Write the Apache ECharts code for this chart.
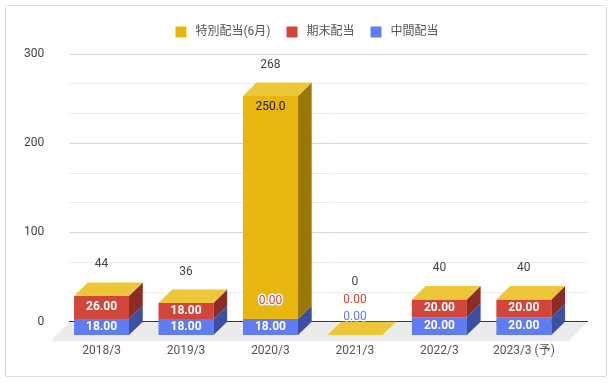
<!DOCTYPE html>
<html>
<head>
<meta charset="utf-8">
<script src="https://cdn.jsdelivr.net/npm/echarts@6/dist/echarts.min.js"></script>
<style>html,body{margin:0;padding:0;background:#fff}#c{width:614px;height:383px}</style>
</head>
<body>
<div id="c"></div>
<script>
var categories = ['2018/3', '2019/3', '2020/3', '2021/3', '2022/3', '2023/3 (予)'];
var interim = [18, 18, 18, 0, 20, 20];      // 中間配当
var yearEnd = [26, 18, 0, 0, 20, 20];       // 期末配当
var special = [null, null, 250, null, null, null]; // 特別配当(6月)
var yTicks = [0, 100, 200, 300];

var FONT = 'Roboto, "Noto Sans CJK JP", sans-serif';
var DX = 13.7, DY = 13.4, FLOOR = 19;
var stacks = [interim, yearEnd, special];
var colors = [
  {front: '#5f7cf0', side: '#3c4fa1'},
  {front: '#d1453b', side: '#8b2c27'},
  {front: '#e8b70f', side: '#9a7808'}
];
var capColor = '#edc63a';

function baseOf(s, i) {
  var b = 0;
  for (var k = 0; k < s; k++) b += (stacks[k][i] || 0);
  return b;
}
function totalOf(i) { return baseOf(3, i); }
function fmt(v) { return v === 0 ? '0.00' : v.toPrecision(4); }

function segRender(s) {
  return function (params, api) {
    var i = params.dataIndex;
    var v = api.value(1);
    var base = baseOf(s, i);
    var W = api.size([1, 0])[0] * 0.651;
    var children = [];
    var p0 = api.coord([i, base]);
    var p1 = api.coord([i, base + v]);
    var cx = p0[0], fb = p0[1] + DY, ft = p1[1] + DY;
    var l = cx - W / 2, r = cx + W / 2;
    if (v > 0) {
      children.push({type: 'rect', shape: {x: l, y: ft, width: W, height: fb - ft}, style: {fill: colors[s].front}});
      children.push({type: 'polygon', shape: {points: [[r, ft], [r + DX, ft - DY], [r + DX, fb - DY], [r, fb]]}, style: {fill: colors[s].side}});
    }
    if (s === 2) {
      var pt = api.coord([i, totalOf(i)]);
      var t = pt[1] + DY;
      children.push({type: 'polygon', shape: {points: [[l, t], [l + DX, t - DY], [r + DX, t - DY], [r, t]]}, style: {fill: capColor}});
    }
    return {type: 'group', children: children};
  };
}

function labelRender(params, api) {
  var i = params.dataIndex;
  var children = [];
  var cursor = Infinity;
  for (var s = 0; s < 3; s++) {
    var v = stacks[s][i];
    if (v == null) continue;
    var base = baseOf(s, i);
    var p0 = api.coord([i, base]);
    var p1 = api.coord([i, base + v]);
    var cx = p0[0], fb = p0[1] + DY, ft = p1[1] + DY;
    if (v === 0) {
      var y = Math.min(ft - 18, cursor - 17.5);
      cursor = y;
      children.push({type: 'text', z2: 10, style: {text: fmt(v), x: cx, y: y, align: 'center', verticalAlign: 'middle',
        fill: colors[s].front, stroke: '#fff', lineWidth: 3, fontSize: 12, fontFamily: FONT}});
    } else {
      var yy = Math.min((ft + fb) / 2, ft + 11.3);
      var isY = s === 2;
      children.push({type: 'text', z2: 10, style: {text: fmt(v), x: cx, y: yy, align: 'center', verticalAlign: 'middle',
        fill: isY ? '#1a1a1a' : '#fff', fontSize: 12, fontWeight: isY ? 'normal' : 'bold', fontFamily: FONT}});
    }
  }
  var tot = totalOf(i);
  var pt = api.coord([i, tot]);
  var ty = Math.min(pt[1] - 18, cursor - 17.5);
  children.push({type: 'text', z2: 10, style: {text: String(tot), x: pt[0], y: ty, align: 'center', verticalAlign: 'middle',
    fill: '#444', fontSize: 12, fontFamily: FONT}});
  return {type: 'group', children: children};
}

var chart = echarts.init(document.getElementById('c'), null, {renderer: 'canvas'});
var names = ['中間配当', '期末配当', '特別配当(6月)'];
var series = [
  {
    type: 'custom', name: 'floor', xAxisIndex: 0, yAxisIndex: 0, z: 1, silent: true,
    data: [[0, 0]],
    renderItem: function (params, api) {
      var cs = params.coordSys;
      var b = cs.y + cs.height + 0.5;
      return {type: 'polygon', shape: {points: [[cs.x, b], [cs.x + cs.width, b], [cs.x + cs.width - FLOOR, b + FLOOR], [cs.x - FLOOR, b + FLOOR]]},
        style: {fill: '#ebebeb'}};
    }
  }
];
for (var s = 0; s < 3; s++) {
  series.push({
    type: 'custom', name: names[s], xAxisIndex: 1, yAxisIndex: 1, z: 3,
    itemStyle: {color: colors[s].front},
    data: categories.map((function (ss) { return function (c, i) { return [i, stacks[ss][i] || 0]; }; })(s)),
    renderItem: segRender(s)
  });
}
series.push({
  type: 'custom', name: 'labels', xAxisIndex: 1, yAxisIndex: 1, z: 5, silent: true,
  data: categories.map(function (c, i) { return [i, totalOf(i)]; }),
  renderItem: labelRender
});

chart.setOption({
  animation: false,
  textStyle: {fontFamily: FONT},
  graphic: [{type: 'rect', shape: {x: 5.5, y: 5.5, width: 601, height: 371, r: 2}, style: {fill: 'none', stroke: '#d9d9d9', lineWidth: 1}, z: -10}],
  legend: {
    top: 21, left: 'center', itemWidth: 11, itemHeight: 11, itemGap: 16, icon: 'rect',
    data: ['特別配当(6月)', '期末配当', '中間配当'],
    textStyle: {color: '#555', fontSize: 12, fontFamily: FONT, padding: [0, 0, 0, 4]}
  },
  grid: [
    {left: 69.3, right: 26.5, top: 54, bottom: 61.3},
    {left: 59.3, width: 506.8, top: 54, bottom: 61.3}
  ],
  xAxis: [
    {type: 'value', gridIndex: 0, min: 0, max: 1, axisLabel: {show: false}, axisTick: {show: false}, splitLine: {show: false},
      axisLine: {show: true, lineStyle: {color: '#333', width: 1}}},
    {type: 'category', gridIndex: 1, data: categories, axisLine: {show: false}, axisTick: {show: false},
      axisLabel: {color: '#555', fontSize: 12, margin: 23, fontFamily: FONT}}
  ],
  yAxis: [
    {type: 'value', gridIndex: 0, min: yTicks[0], max: yTicks[yTicks.length - 1], interval: 100,
      axisLine: {show: false}, axisTick: {show: false},
      axisLabel: {color: '#444', fontSize: 12, margin: 25, fontFamily: FONT},
      splitLine: {lineStyle: {color: '#d6d6d6'}},
      minorTick: {show: false, splitNumber: 3},
      minorSplitLine: {show: true, lineStyle: {color: '#ebebeb'}}},
    {type: 'value', gridIndex: 1, min: 0, max: 300, show: false, splitLine: {show: false}}
  ],
  series: series
});
</script>
</body>
</html>
